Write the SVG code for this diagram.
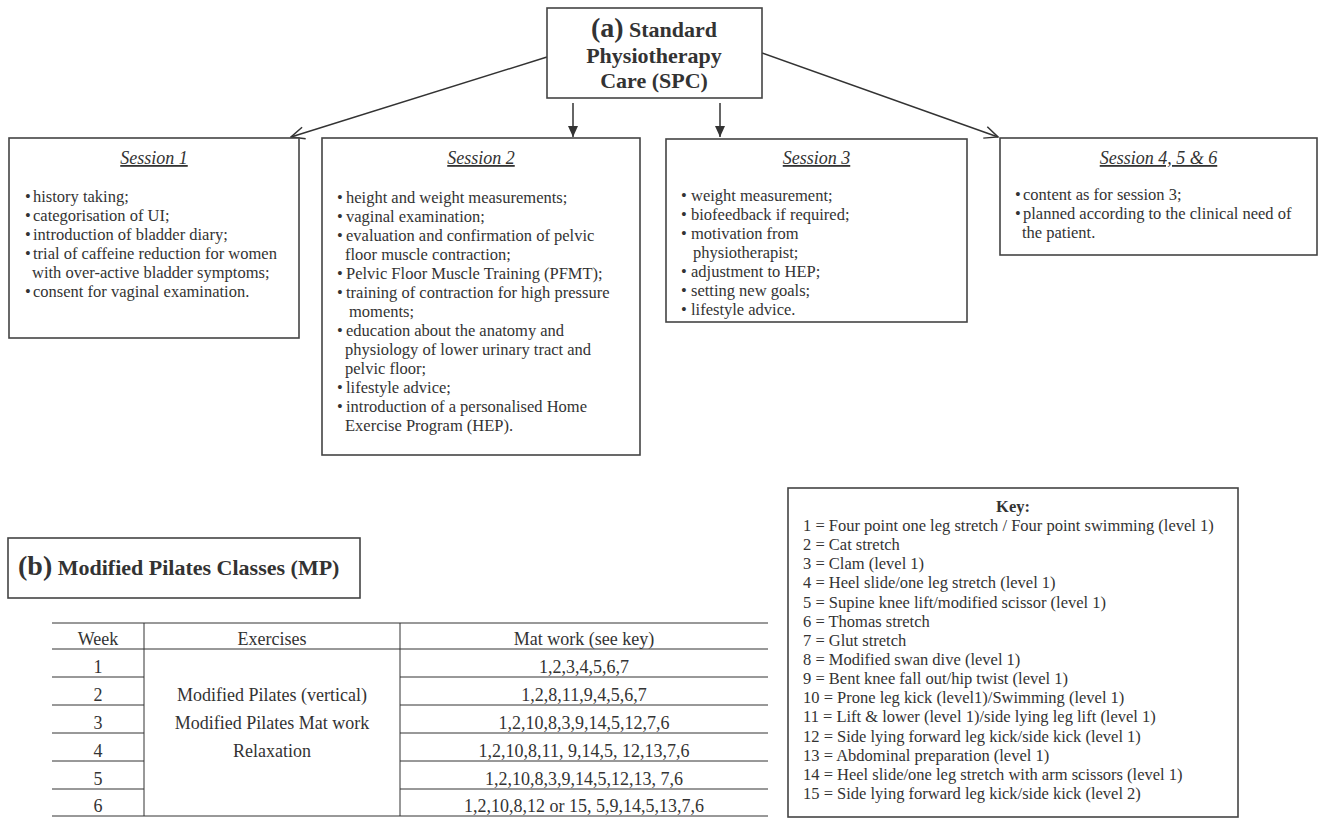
<svg xmlns="http://www.w3.org/2000/svg" width="1322" height="820" viewBox="0 0 1322 820">
<style>
text{font-family:"Liberation Serif","Times New Roman",serif;fill:#333}
.box{fill:#fff;stroke:#444;stroke-width:1.6}
.b{font-size:16.5px}
.t{font-size:18px;font-style:italic;text-decoration:underline;text-anchor:middle}
.h{font-weight:bold;font-size:22px;text-anchor:middle}
.tb{font-size:18px;text-anchor:middle}
.k{font-size:16.5px}
.ln{stroke:#333;stroke-width:1.5;fill:none}
.tl{stroke:#333;stroke-width:1}
</style>
<defs>
<marker id="open" markerUnits="userSpaceOnUse" markerWidth="16" markerHeight="14" viewBox="0 0 16 14" refX="14.5" refY="7" orient="auto">
<path d="M1,1 L14.5,7 L1,13" fill="none" stroke="#333" stroke-width="1.5"/>
</marker>
<marker id="fill" markerUnits="userSpaceOnUse" markerWidth="11" markerHeight="10" viewBox="0 0 11 10" refX="11" refY="5" orient="auto">
<path d="M0,0 L11,5 L0,10 Z" fill="#333"/>
</marker>
</defs>

<g id="connectors">
<line class="ln" x1="547" y1="57" x2="291" y2="137" marker-end="url(#open)"/>
<line class="ln" x1="762" y1="53" x2="998" y2="137" marker-end="url(#open)"/>
<line class="ln" x1="573" y1="103" x2="573" y2="137" marker-end="url(#fill)"/>
<line class="ln" x1="720" y1="103" x2="720" y2="137" marker-end="url(#fill)"/>
</g>

<g id="spc">
<rect class="box" x="547" y="8" width="215" height="90"/>
<text class="h" x="654" y="37"><tspan font-size="28px">(a)</tspan> Standard</text>
<text class="h" x="654" y="62.5">Physiotherapy</text>
<text class="h" x="654" y="88">Care (SPC)</text>
</g>

<g id="session1">
<rect class="box" x="9" y="138" width="290" height="200"/>
<text class="t" x="154" y="164">Session 1</text>
<text class="b"><tspan x="25" y="202">•</tspan><tspan x="33" y="202">history taking;</tspan></text>
<text class="b"><tspan x="25" y="221">•</tspan><tspan x="33" y="221">categorisation of UI;</tspan></text>
<text class="b"><tspan x="25" y="240">•</tspan><tspan x="33" y="240">introduction of bladder diary;</tspan></text>
<text class="b"><tspan x="25" y="259">•</tspan><tspan x="33" y="259">trial of caffeine reduction for women</tspan></text>
<text class="b" x="32" y="278">with over-active bladder symptoms;</text>
<text class="b"><tspan x="25" y="297">•</tspan><tspan x="33" y="297">consent for vaginal examination.</tspan></text>
</g>

<g id="session2">
<rect class="box" x="322" y="138" width="318" height="317"/>
<text class="t" x="481" y="164">Session 2</text>
<text class="b"><tspan x="337" y="203">•</tspan><tspan x="346" y="203">height and weight measurements;</tspan></text>
<text class="b"><tspan x="337" y="222">•</tspan><tspan x="346" y="222">vaginal examination;</tspan></text>
<text class="b"><tspan x="337" y="241">•</tspan><tspan x="346" y="241">evaluation and confirmation of pelvic</tspan></text>
<text class="b" x="345" y="260">floor muscle contraction;</text>
<text class="b"><tspan x="337" y="279">•</tspan><tspan x="346" y="279">Pelvic Floor Muscle Training (PFMT);</tspan></text>
<text class="b"><tspan x="337" y="298">•</tspan><tspan x="346" y="298">training of contraction for high pressure</tspan></text>
<text class="b" x="349" y="317">moments;</text>
<text class="b"><tspan x="337" y="336">•</tspan><tspan x="346" y="336">education about the anatomy and</tspan></text>
<text class="b" x="345" y="355">physiology of lower urinary tract and</text>
<text class="b" x="345" y="374">pelvic floor;</text>
<text class="b"><tspan x="337" y="393">•</tspan><tspan x="346" y="393">lifestyle advice;</tspan></text>
<text class="b"><tspan x="337" y="412">•</tspan><tspan x="346" y="412">introduction of a personalised Home</tspan></text>
<text class="b" x="345" y="431">Exercise Program (HEP).</text>
</g>

<g id="session3">
<rect class="box" x="666" y="139" width="301" height="183"/>
<text class="t" x="816.5" y="164">Session 3</text>
<text class="b"><tspan x="681" y="201">•</tspan><tspan x="691" y="201">weight measurement;</tspan></text>
<text class="b"><tspan x="681" y="220">•</tspan><tspan x="691" y="220">biofeedback if required;</tspan></text>
<text class="b"><tspan x="681" y="239">•</tspan><tspan x="691" y="239">motivation from</tspan></text>
<text class="b" x="693" y="258">physiotherapist;</text>
<text class="b"><tspan x="681" y="277">•</tspan><tspan x="691" y="277">adjustment to HEP;</tspan></text>
<text class="b"><tspan x="681" y="296">•</tspan><tspan x="691" y="296">setting new goals;</tspan></text>
<text class="b"><tspan x="681" y="315">•</tspan><tspan x="691" y="315">lifestyle advice.</tspan></text>
</g>

<g id="session456">
<rect class="box" x="1000" y="138" width="317" height="117"/>
<text class="t" x="1158.5" y="164">Session 4, 5 &amp; 6</text>
<text class="b"><tspan x="1015" y="200">•</tspan><tspan x="1023" y="200">content as for session 3;</tspan></text>
<text class="b"><tspan x="1015" y="219">•</tspan><tspan x="1023" y="219">planned according to the clinical need of</tspan></text>
<text class="b" x="1022" y="238">the patient.</text>
</g>

<g id="mp">
<rect class="box" x="8" y="538" width="352" height="60"/>
<text x="18" y="575" font-weight="bold" font-size="22px"><tspan font-size="28px">(b)</tspan> Modified Pilates Classes (MP)</text>
</g>

<g id="table">
<line class="tl" x1="52" y1="623" x2="768" y2="623"/>
<line class="tl" x1="52" y1="649" x2="768" y2="649"/>
<line class="tl" x1="52" y1="677" x2="144" y2="677"/>
<line class="tl" x1="52" y1="705" x2="144" y2="705"/>
<line class="tl" x1="52" y1="733" x2="144" y2="733"/>
<line class="tl" x1="52" y1="761" x2="144" y2="761" stroke-width="2"/>
<line class="tl" x1="52" y1="789" x2="144" y2="789"/>
<line class="tl" x1="400" y1="677" x2="768" y2="677"/>
<line class="tl" x1="400" y1="705" x2="768" y2="705"/>
<line class="tl" x1="400" y1="733" x2="768" y2="733"/>
<line class="tl" x1="400" y1="761" x2="768" y2="761" stroke-width="2"/>
<line class="tl" x1="400" y1="789" x2="768" y2="789"/>
<line class="tl" x1="52" y1="816" x2="768" y2="816"/>
<line class="tl" x1="144" y1="623" x2="144" y2="816"/>
<line class="tl" x1="400" y1="623" x2="400" y2="816"/>
<text class="tb" x="98" y="645">Week</text>
<text class="tb" x="272" y="645">Exercises</text>
<text class="tb" x="584" y="645">Mat work (see key)</text>
<text class="tb" x="98" y="673">1</text>
<text class="tb" x="98" y="701">2</text>
<text class="tb" x="98" y="729">3</text>
<text class="tb" x="98" y="757">4</text>
<text class="tb" x="98" y="785">5</text>
<text class="tb" x="98" y="812">6</text>
<text class="tb" x="272" y="701">Modified Pilates (vertical)</text>
<text class="tb" x="272" y="729">Modified Pilates Mat work</text>
<text class="tb" x="272" y="757">Relaxation</text>
<text class="tb" x="584" y="673">1,2,3,4,5,6,7</text>
<text class="tb" x="584" y="701">1,2,8,11,9,4,5,6,7</text>
<text class="tb" x="584" y="729">1,2,10,8,3,9,14,5,12,7,6</text>
<text class="tb" x="584" y="757">1,2,10,8,11, 9,14,5, 12,13,7,6</text>
<text class="tb" x="584" y="785">1,2,10,8,3,9,14,5,12,13, 7,6</text>
<text class="tb" x="584" y="812">1,2,10,8,12 or 15, 5,9,14,5,13,7,6</text>
</g>

<g id="key">
<rect class="box" x="788" y="488" width="450" height="329"/>
<text x="1013" y="512" font-weight="bold" font-size="16.5px" text-anchor="middle">Key:</text>
<text class="k" x="803" y="531">1 = Four point one leg stretch / Four point swimming (level 1)</text>
<text class="k" x="803" y="550">2 = Cat stretch</text>
<text class="k" x="803" y="569">3 = Clam (level 1)</text>
<text class="k" x="803" y="588">4 = Heel slide/one leg stretch (level 1)</text>
<text class="k" x="803" y="607.5">5 = Supine knee lift/modified scissor (level 1)</text>
<text class="k" x="803" y="626.5">6 = Thomas stretch</text>
<text class="k" x="803" y="645.5">7 = Glut stretch</text>
<text class="k" x="803" y="665">8 = Modified swan dive (level 1)</text>
<text class="k" x="803" y="684">9 = Bent knee fall out/hip twist (level 1)</text>
<text class="k" x="803" y="703">10 = Prone leg kick (level1)/Swimming (level 1)</text>
<text class="k" x="803" y="722">11 = Lift &amp; lower (level 1)/side lying leg lift (level 1)</text>
<text class="k" x="803" y="741.5">12 = Side lying forward leg kick/side kick (level 1)</text>
<text class="k" x="803" y="760.5">13 = Abdominal preparation (level 1)</text>
<text class="k" x="803" y="780">14 = Heel slide/one leg stretch with arm scissors (level 1)</text>
<text class="k" x="803" y="799">15 = Side lying forward leg kick/side kick (level 2)</text>
</g>
</svg>
